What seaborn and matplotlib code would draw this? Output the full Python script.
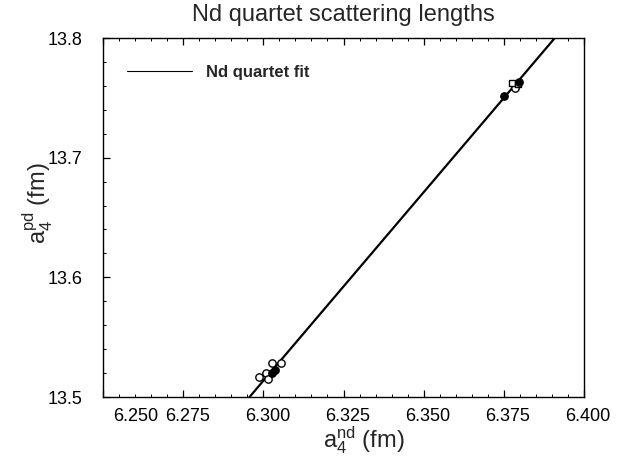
import numpy as np
import pandas as pd
import matplotlib
matplotlib.use("Agg")
import matplotlib.pyplot as plt
import matplotlib.transforms as mtransforms
from matplotlib.lines import Line2D
from matplotlib.ticker import MultipleLocator
import seaborn as sns

# Fit line end points
fit_x = [6.2957, 6.3909]
fit_y = [13.500, 13.800]

# Calculated points near the two clusters
open_circle_x = [6.2988, 6.3009, 6.3016, 6.3028, 6.3056, 6.3785]
open_circle_y = [13.5167, 13.5200, 13.5150, 13.5280, 13.5280, 13.7582]
filled_circle_x = [6.3037, 6.3028, 6.3750, 6.3797]
filled_circle_y = [13.5226, 13.5200, 13.7515, 13.7632]
open_square_x = [6.3775, 6.3794]
open_square_y = [13.7623, 13.7615]

x_ticks = [6.250, 6.275, 6.300, 6.325, 6.350, 6.375, 6.400]
x_labels = ["6.250", "6.275", "6.300", "6.325", "6.350", "6.375", "6.400"]
y_ticks = [13.5, 13.6, 13.7, 13.8]
y_labels = ["13.5", "13.6", "13.7", "13.8"]

sns.set_style("ticks")
plt.rcParams['font.family'] = ['Liberation Sans', 'DejaVu Sans']
plt.rcParams['mathtext.fontset'] = 'custom'
plt.rcParams['mathtext.rm'] = 'Liberation Sans'
plt.rcParams['mathtext.it'] = 'Liberation Sans'

fig = plt.figure(figsize=(6.3, 4.63), dpi=100)
ax = fig.add_axes([103 / 630, 1 - 397 / 463, 481 / 630, 359 / 463])

fit = pd.DataFrame({"x": fit_x, "y": fit_y})
sns.lineplot(data=fit, x="x", y="y", ax=ax, color="black", lw=1.6)

sns.scatterplot(x=open_circle_x, y=open_circle_y, ax=ax, marker="o", s=28,
                facecolor="white", edgecolor="black", linewidth=1.0, zorder=3)
sns.scatterplot(x=filled_circle_x, y=filled_circle_y, ax=ax, marker="o", s=28,
                color="black", edgecolor="black", linewidth=1.0, zorder=4)
sns.scatterplot(x=open_square_x, y=open_square_y, ax=ax, marker="s", s=24,
                facecolor="white", edgecolor="black", linewidth=1.0, zorder=3)

ax.set_xlim(6.25, 6.40)
ax.set_ylim(13.5, 13.8)
ax.set_xticks(x_ticks, x_labels)
ax.set_yticks(y_ticks, y_labels)
ax.xaxis.set_minor_locator(MultipleLocator(0.005))
ax.yaxis.set_minor_locator(MultipleLocator(0.02))
ax.tick_params(axis="both", which="both", direction="in", top=True, right=False,
               colors="black", labelsize=13)
ax.tick_params(axis="both", which="major", length=5, width=0.9)
ax.tick_params(axis="both", which="minor", length=2.5, width=0.7)
ax.tick_params(axis="x", which="major", pad=8)
ax.tick_params(axis="y", which="major", pad=15)
for sp in ax.spines.values():
    sp.set_linewidth(1.0)
    sp.set_color("black")

# shift tick labels like the original
for i, lbl in enumerate(ax.get_xticklabels()):
    dx = 33 if i == 0 else 4
    lbl.set_transform(lbl.get_transform() +
                      mtransforms.ScaledTranslation(dx / 100, 0, fig.dpi_scale_trans))

ax.set_title("Nd quartet scattering lengths", fontsize=17, pad=12)
ax.set_xlabel(r"$\mathrm{a}_4^{\mathrm{nd}}$ (fm)", fontsize=17)
ax.set_ylabel(r"$\mathrm{a}_4^{\mathrm{pd}}$ (fm)", fontsize=17)
ax.xaxis.set_label_coords(0.543, -0.075)
ax.yaxis.set_label_coords(-0.10, 0.54)

handle = Line2D([], [], color="black", lw=0.8)
ax.legend([handle], ["Nd quartet fit"], loc="center left",
          bbox_to_anchor=(0.05, 0.905), frameon=False, borderpad=0,
          borderaxespad=0, handlelength=3.9, handletextpad=0.85,
          prop={"size": 12, "weight": "bold"})

fig.savefig("out.png", dpi=100)
